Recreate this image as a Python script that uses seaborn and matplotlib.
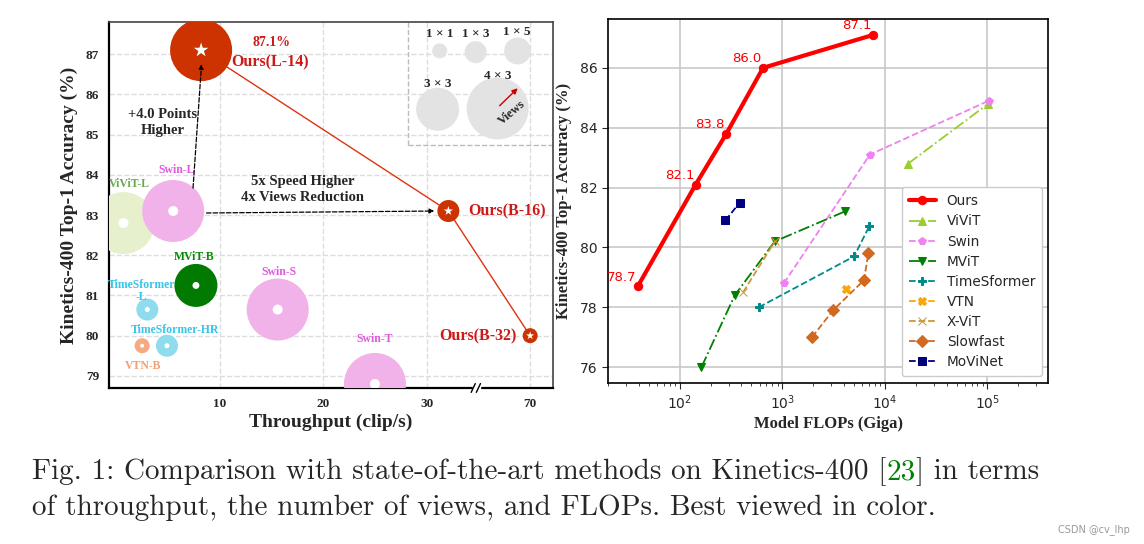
import numpy as np
import pandas as pd
import matplotlib
matplotlib.use('Agg')
import matplotlib.pyplot as plt
import seaborn as sns

# ---------------- left panel data: throughput / accuracy / views
models = ['Ours(L-14)', 'Ours(B-16)', 'Ours(B-32)', 'ViViT-L', 'Swin-L', 'Swin-S', 'Swin-T',
          'MViT-B', 'TimeSformer-L', 'TimeSformer-HR', 'VTN-B']
family = ['Ours', 'Ours', 'Ours', 'ViViT', 'Swin', 'Swin', 'Swin',
          'MViT', 'TimeSformer', 'TimeSformer', 'VTN']
throughput = [8.2, 32.1, 70, 0.7, 5.5, 15.6, 25.0, 7.7, 3.0, 4.9, 2.5]
top1 = [87.1, 83.1, 80.0, 82.8, 83.1, 80.65, 78.8, 81.25, 80.65, 79.75, 79.75]
views = [12, 3, 1, 12, 12, 12, 12, 9, 3, 3, 1]

view_keys = [1, 3, 5, 9, 12]
view_names = ['1 × 1', '1 × 3', '1 × 5', '3 × 3', '4 × 3']

# ---------------- right panel data: FLOPs / accuracy
ours_flops = [39, 143, 285, 650, 7690]
ours_acc = [78.7, 82.1, 83.8, 86.0, 87.1]
vivit_flops = [16870, 102000]
vivit_acc = [82.8, 84.8]
swin_flops = [1035, 7150, 103000]
swin_acc = [78.8, 83.1, 84.9]
mvit_flops = [163, 344, 845, 4070]
mvit_acc = [76.0, 78.4, 80.2, 81.2]
timesformer_flops = [590, 5020, 7030]
timesformer_acc = [78.0, 79.7, 80.7]
vtn_flops = [4140]
vtn_acc = [78.6]
xvit_flops = [415, 845]
xvit_acc = [78.5, 80.2]
slowfast_flops = [1950, 3130, 6240, 6920]
slowfast_acc = [77.0, 77.9, 78.9, 79.8]
movinet_flops = [279, 385]
movinet_acc = [80.9, 81.5]

sns.set_style('white')
serif = ['Liberation Serif', 'DejaVu Serif']

fig = plt.figure(figsize=(11.44, 5.44), dpi=100)
ax1 = fig.add_axes([0.0953, 0.2868, 0.388, 0.6728])
ax2 = fig.add_axes([0.5315, 0.296, 0.3846, 0.669])


def xpos(v):
    # broken axis: everything past the break is shifted left by 30
    return v if v <= 35 else v - 30


df = pd.DataFrame({'model': models, 'family': family, 'x': [xpos(v) for v in throughput],
                   'acc': top1, 'views': views})

fam_colors = {'Ours': '#cc3300', 'ViViT': '#e6f0cc', 'Swin': '#f0b2e8', 'MViT': '#007a00',
              'TimeSformer': '#8fdcee', 'VTN': '#f5aa82'}
txt_colors = {'Ours': '#cc1a1a', 'ViViT': '#6aa84f', 'Swin': '#e058e0', 'MViT': '#0a8a0a',
              'TimeSformer': '#38c4e8', 'VTN': '#f2a070'}

# bubble sizes in points^2 per number of views
bubble = {1: 117, 3: 251, 5: 378, 9: 958, 12: 1993}
inner = {1: 8, 3: 13, 9: 25, 12: 52}
star = {1: 38, 3: 50, 12: 120}

ours = df[df.family == 'Ours']
ax1.plot(ours.x, ours.acc, color='#dd3311', lw=1.0, zorder=1.5)

sns.scatterplot(data=df, x='x', y='acc', hue='family', palette=fam_colors, size='views',
                sizes=bubble, linewidth=0, legend=False, alpha=1, ax=ax1, zorder=3)
others = df[df.family != 'Ours']
sns.scatterplot(data=others, x='x', y='acc', size='views', sizes=inner, color='white',
                linewidth=0, legend=False, ax=ax1, zorder=4)
sns.scatterplot(data=ours, x='x', y='acc', size='views', sizes=star, color='white', marker='*',
                linewidth=0, legend=False, ax=ax1, zorder=4)

# view-size key in the corner
key = pd.DataFrame({'x': [31.26, 34.73, 38.79, 31.06, 36.86],
                    'y': [87.08, 87.05, 87.08, 85.63, 85.65], 'views': view_keys})
sns.scatterplot(data=key, x='x', y='y', size='views', sizes=bubble, color='#e3e3e3',
                linewidth=0, legend=False, ax=ax1, zorder=3)
key_lbl = [(31.26, 87.5), (34.73, 87.5), (38.75, 87.55), (31.06, 86.25), (36.86, 86.45)]
for (kx, ky), name in zip(key_lbl, view_names):
    ax1.text(kx, ky, name, ha='center', va='center', fontsize=9.5, fontweight='bold',
             family=serif, zorder=5)
ax1.annotate('', xy=(38.99, 86.2), xytext=(36.86, 85.67),
             arrowprops=dict(arrowstyle='-|>', color='#cc0000', lw=1, mutation_scale=8), zorder=5)
ax1.text(38.2, 85.55, 'Views', rotation=40, ha='center', va='center', fontsize=9,
         fontweight='bold', family=serif, zorder=5)
ax1.plot([28.2, 28.2], [84.75, 87.9], ls='--', color='#bbbbbb', lw=1, zorder=2)
ax1.plot([28.2, 43], [84.75, 84.75], ls='--', color='#bbbbbb', lw=1, zorder=2)

# model labels
labels = [
    ('87.1%', 15.0, 87.28, 'Ours', 'center', 10),
    ('Ours(L-14)', 14.9, 86.8, 'Ours', 'center', 11.5),
    ('Ours(B-16)', 34.06, 83.1, 'Ours', 'left', 11.5),
    ('Ours(B-32)', 38.7, 79.98, 'Ours', 'right', 11.5),
    ('ViViT-L', 1.3, 83.78, 'ViViT', 'center', 8.5),
    ('Swin-L', 5.85, 84.13, 'Swin', 'center', 8.5),
    ('Swin-S', 15.7, 81.58, 'Swin', 'center', 8.5),
    ('Swin-T', 24.97, 79.93, 'Swin', 'center', 8.5),
    ('MViT-B', 7.58, 81.95, 'MViT', 'center', 8.5),
    ('TimeSformer\n-L', 2.45, 81.1, 'TimeSformer', 'center', 8.5),
    ('TimeSformer-HR', 5.65, 80.15, 'TimeSformer', 'center', 8.5),
    ('VTN-B', 2.56, 79.25, 'VTN', 'center', 8.5),
]
for txt, tx, ty, fam, ha, fs in labels:
    ax1.text(tx, ty, txt, color=txt_colors[fam], ha=ha, va='center', fontsize=fs,
             fontweight='bold', family=serif, zorder=6, linespacing=1.0)

ax1.text(4.5, 85.3, '+4.0 Points\nHigher', ha='center', va='center', fontsize=10.5,
         fontweight='bold', family=serif, linespacing=1.3, zorder=6)
ax1.text(18.0, 83.63, '5x Speed Higher\n4x Views Reduction', ha='center', va='center',
         fontsize=10.5, fontweight='bold', family=serif, linespacing=1.3, zorder=6)
ax1.annotate('', xy=(8.26, 86.82), xytext=(7.4, 83.6),
             arrowprops=dict(arrowstyle='-|>', ls='--', color='black', lw=0.9, mutation_scale=7),
             zorder=6)
ax1.annotate('', xy=(31.0, 83.1), xytext=(8.45, 83.05),
             arrowprops=dict(arrowstyle='-|>', ls='--', color='black', lw=0.9, mutation_scale=7),
             zorder=6)

ax1.set_xlim(-0.7, 42.2)
ax1.set_ylim(78.7, 87.8)
ax1.set_xticks([10, 20, 30, 40])
ax1.set_xticklabels(['10', '20', '30', '70'])
ax1.set_yticks([79, 80, 81, 82, 83, 84, 85, 86, 87])
ax1.grid(True, ls='--', color='#dddddd', lw=1)
ax1.set_axisbelow(True)
for lab in ax1.get_xticklabels() + ax1.get_yticklabels():
    lab.set_family(serif)
    lab.set_fontweight('bold')
    lab.set_fontsize(9.5)
ax1.tick_params(axis='both', length=3, width=1, direction='out', pad=4)
ax1.set_xlabel('Throughput (clip/s)', fontsize=14, fontweight='bold', family=serif, labelpad=3)
ax1.set_ylabel('Kinetics-400 Top-1 Accuracy (%)', fontsize=14, fontweight='bold', family=serif,
               labelpad=6)
for side in ['left', 'bottom']:
    ax1.spines[side].set_color('black')
    ax1.spines[side].set_linewidth(1.6)
for side in ['top', 'right']:
    ax1.spines[side].set_color('#444444')
    ax1.spines[side].set_linewidth(1.2)

# break marks on the x axis
trans = ax1.get_xaxis_transform()
ax1.add_patch(plt.Rectangle((34.45, -0.01), 0.75, 0.02, transform=trans, color='white',
                            clip_on=False, zorder=10))
for x0 in [34.3, 34.8]:
    ax1.plot([x0, x0 + 0.4], [-0.012, 0.012], transform=trans, color='black', lw=1,
             clip_on=False, zorder=11)

# ---------------- right panel
series = [
    ('Ours', ours_flops, ours_acc, 'red', '-', 'o', 3.0, 6),
    ('ViViT', vivit_flops, vivit_acc, 'yellowgreen', '-.', '^', 1.3, 6),
    ('Swin', swin_flops, swin_acc, 'violet', '--', 'p', 1.3, 6),
    ('MViT', mvit_flops, mvit_acc, 'green', '-.', 'v', 1.3, 6),
    ('TimeSformer', timesformer_flops, timesformer_acc, 'darkcyan', '--', 'P', 1.3, 6),
    ('VTN', vtn_flops, vtn_acc, 'orange', '--', 'X', 1.3, 6),
    ('X-ViT', xvit_flops, xvit_acc, '#cc9933', '--', 'x', 1.3, 6),
    ('Slowfast', slowfast_flops, slowfast_acc, 'chocolate', '--', 'D', 1.3, 6),
    ('MoViNet', movinet_flops, movinet_acc, 'navy', '--', 's', 1.3, 6),
]
for name, fx, fy, col, ls, mk, lw, ms in series:
    sns.lineplot(x=fx, y=fy, color=col, linestyle=ls, marker=mk, lw=lw, markersize=ms,
                 markeredgecolor=col, label=name, ax=ax2, sort=False, zorder=3)

for fx, fy in zip(ours_flops, ours_acc):
    ax2.annotate(f'{fy:.1f}', xy=(fx, fy), xytext=(-1, 2), textcoords='offset points',
                 ha='right', va='bottom', color='red', fontsize=9.5, zorder=4)

ax2.set_xscale('log')
ax2.set_xlim(20, 3.9e5)
ax2.set_ylim(75.47, 87.63)
ax2.set_yticks([76, 78, 80, 82, 84, 86])
ax2.grid(True, which='major', color='#c8c8c8', lw=1.2)
ax2.set_axisbelow(True)
ax2.tick_params(axis='both', which='major', labelsize=10, length=4, direction='out')
ax2.tick_params(axis='x', which='minor', length=2, direction='out')
ax2.tick_params(bottom=True, left=True, which='both')
ax2.set_xlabel('Model FLOPs (Giga)', fontsize=12, fontweight='bold', family=serif, labelpad=3)
ax2.set_ylabel('Kinetics-400 Top-1 Accuracy (%)', fontsize=12, fontweight='bold', family=serif,
               labelpad=6)
for sp in ax2.spines.values():
    sp.set_color('black')
    sp.set_linewidth(1.2)
ax2.legend(loc='lower right', fontsize=9.8, frameon=True, framealpha=1, edgecolor='#cccccc',
           handlelength=2.0, labelspacing=0.45, borderpad=0.5, borderaxespad=0,
           bbox_to_anchor=(0.986, 0.019))

# ---------------- caption
cm = ['cmr10', 'DejaVu Serif']
cap_fs = 21
y1 = 1 - 472 / 544
t1 = fig.text(32 / 1144, y1, 'Fig. 1: Comparison with state-of-the-art methods on Kinetics-400 [',
              fontsize=cap_fs, family=cm, va='center')
fig.canvas.draw()
r = fig.canvas.get_renderer()
bb = t1.get_window_extent(r)
t2 = fig.text(bb.x1 / 1144, y1, '23', fontsize=cap_fs, family=cm, va='center', color='#008000')
fig.canvas.draw()
bb2 = t2.get_window_extent(r)
fig.text(bb2.x1 / 1144, y1, '] in terms', fontsize=cap_fs, family=cm, va='center')
fig.text(32 / 1144, 1 - 508 / 544, 'of throughput, the number of views, and FLOPs. Best viewed in color.',
         fontsize=cap_fs, family=cm, va='center')
fig.text(1130 / 1144, 1 - 530 / 544, 'CSDN @cv_lhp', fontsize=7, color='#999999', ha='right',
         va='center')

fig.savefig('out.png', dpi=100)
